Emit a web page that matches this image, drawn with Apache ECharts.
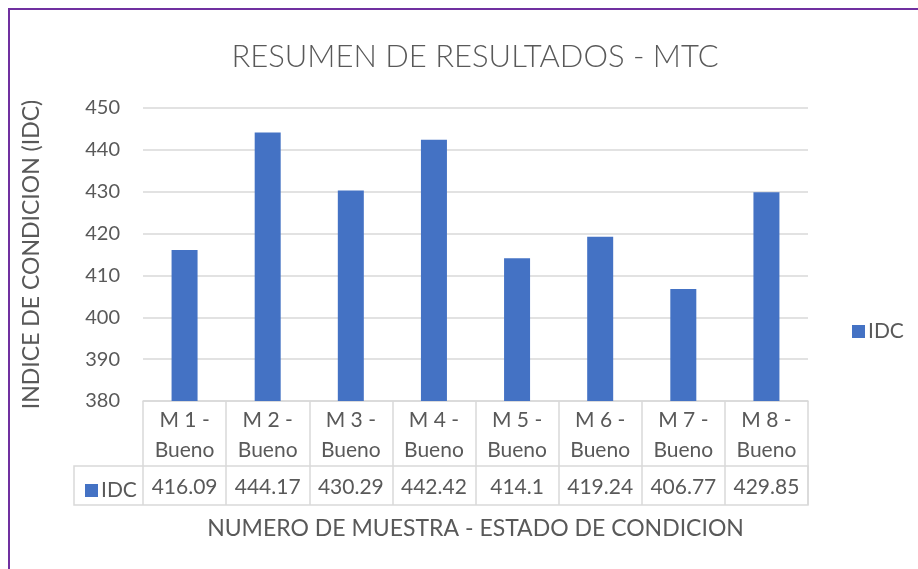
<!DOCTYPE html>
<html>
<head>
<meta charset="utf-8">
<script src="https://cdn.jsdelivr.net/npm/echarts@6/dist/echarts.min.js"></script>
<style>
  html, body { margin: 0; padding: 0; background: #fff; }
  #chart { width: 918px; height: 569px; }
</style>
</head>
<body>
<div id="chart"></div>
<script>
// datos del grafico
const categories = ['M 1 - Bueno', 'M 2 - Bueno', 'M 3 - Bueno', 'M 4 - Bueno',
  'M 5 - Bueno', 'M 6 - Bueno', 'M 7 - Bueno', 'M 8 - Bueno']
const idcValues = [416.09, 444.17, 430.29, 442.42, 414.1, 419.24, 406.77, 429.85]
const yMin = 380
const yMax = 450
const yStep = 10

const FONT = 'Lato'
const GREY = '#595959'
const LINE = '#d9d9d9'

const chart = echarts.init(document.getElementById('chart'))

const legendStyle = {
  icon: 'rect',
  itemWidth: 13,
  itemHeight: 13,
  itemGap: 6,
  textStyle: { fontFamily: FONT, fontSize: 21, color: GREY, padding: [0, 0, 0, -2] }
}

chart.setOption({
  backgroundColor: '#fff',
  animation: false,
  title: {
    text: 'RESUMEN DE RESULTADOS - MTC',
    left: 470,
    textAlign: 'center',
    top: 36,
    textStyle: { fontFamily: FONT, fontSize: 31, fontWeight: 300, color: GREY }
  },
  legend: [
    Object.assign({ left: 847, top: 316, data: ['IDC'] }, legendStyle),
    Object.assign({ left: 80, top: 475, data: ['IDC'] }, legendStyle)
  ],
  grid: { left: 143, right: 110, top: 108, bottom: 168 },
  xAxis: [
    {
      type: 'category',
      data: categories,
      name: 'NUMERO DE MUESTRA - ESTADO DE CONDICION',
      nameLocation: 'middle',
      nameGap: 116,
      nameTextStyle: { fontFamily: FONT, fontSize: 23, color: GREY, verticalAlign: 'top' },
      axisLine: { lineStyle: { color: LINE, width: 1.5 } },
      axisTick: { show: true, interval: 0, alignWithLabel: false, length: 104, lineStyle: { color: LINE, width: 1.5 } },
      axisLabel: {
        interval: 0,
        margin: 4,
        fontFamily: FONT,
        fontSize: 21,
        lineHeight: 30,
        color: GREY,
        formatter: v => v.replace(' - ', ' -\n')
      }
    },
    {
      type: 'category',
      position: 'bottom',
      data: idcValues.map(v => String(v)),
      axisLine: { show: false },
      axisTick: { show: false },
      axisLabel: { interval: 0, margin: 75, fontFamily: FONT, fontSize: 21, lineHeight: 22, color: GREY }
    }
  ],
  yAxis: {
    type: 'value',
    min: yMin,
    max: yMax,
    interval: yStep,
    name: 'INDICE DE CONDICION (IDC)',
    nameLocation: 'middle',
    nameGap: 100,
    nameTextStyle: { fontFamily: FONT, fontSize: 23, color: GREY },
    axisLine: { show: false },
    axisTick: { show: false },
    axisLabel: { margin: 23, fontFamily: FONT, fontSize: 20, color: GREY },
    splitLine: { lineStyle: { color: LINE, width: 1.5 } }
  },
  series: [
    {
      name: 'IDC',
      type: 'bar',
      xAxisIndex: 0,
      data: idcValues,
      barWidth: 26,
      itemStyle: { color: '#4472C4' }
    }
  ],
  graphic: [
    // fila de valores de la tabla
    { type: 'rect', shape: { x: 74, y: 466, width: 734, height: 39 },
      style: { fill: 'none', stroke: LINE, lineWidth: 1.5 }, silent: true },
    // marco morado
    { type: 'polyline', shape: { points: [[9, 569], [9, 9], [918, 9]] },
      style: { fill: 'none', stroke: '#7030A0', lineWidth: 2 }, silent: true }
  ]
})
</script>
</body>
</html>
